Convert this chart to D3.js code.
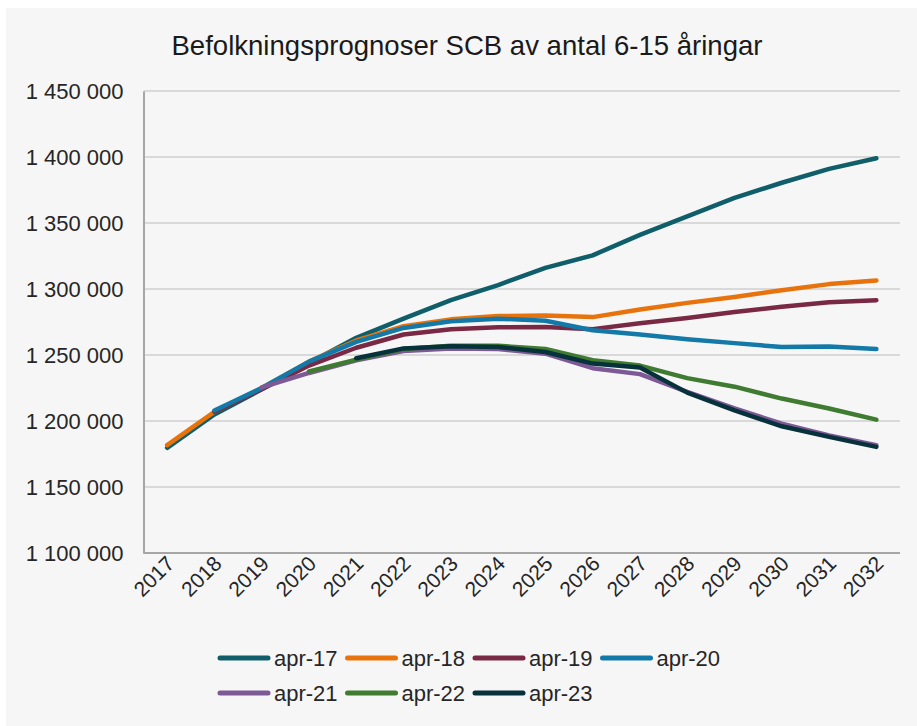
<!DOCTYPE html>
<html>
<head>
<meta charset="utf-8">
<script src="https://cdn.jsdelivr.net/npm/d3@7"></script>
<style>
  body { margin: 0; background: #ffffff; }
  svg { font-family: "Liberation Sans", Arial, sans-serif; }
  .grid line { stroke: #d9d9d9; stroke-width: 2; }
  .axis path, .axis line { stroke: #a6a6a6; stroke-width: 2; }
  .tick text { fill: #262626; }
  .serie { fill: none; stroke-width: 4.5; stroke-linejoin: round; stroke-linecap: round; }
</style>
</head>
<body>
<svg width="917" height="726"></svg>
<script>
const YEARS = [2017, 2018, 2019, 2020, 2021, 2022, 2023, 2024, 2025, 2026, 2027, 2028, 2029, 2030, 2031, 2032];

// one prognos per year, null = no value that year
const APR_17 = [1179700, 1205000, 1224000, 1244000, 1263000, 1277500, 1291500, 1303000, 1316000, 1325500, 1341000, 1355000, 1369000, 1380500, 1391000, 1399000];
const APR_18 = [1181700, 1207000, 1225000, 1245000, 1261000, 1271800, 1277000, 1279500, 1280000, 1278700, 1284500, 1289500, 1294000, 1299000, 1303700, 1306500];
const APR_19 = [null, 1207000, 1224000, 1242000, 1255500, 1265500, 1269500, 1271000, 1271200, 1269600, 1274000, 1278000, 1282500, 1286500, 1290000, 1291500];
const APR_20 = [null, 1208000, 1225000, 1245000, 1260000, 1270500, 1275500, 1277500, 1276000, 1268700, 1265500, 1262000, 1259000, 1256000, 1256500, 1254500];
const APR_21 = [null, null, 1225500, 1236400, 1246000, 1253000, 1255000, 1254500, 1251000, 1240000, 1235500, 1222000, 1209500, 1198000, 1189000, 1181700];
const APR_22 = [null, null, null, 1237500, 1246500, 1254500, 1257000, 1257000, 1254500, 1246000, 1242000, 1232500, 1226000, 1217000, 1209500, 1201000];
const APR_23 = [null, null, null, null, 1247500, 1255000, 1256700, 1256000, 1252300, 1243500, 1240500, 1221500, 1208000, 1196000, 1188000, 1180400];

const SERIES_NAMES = ['apr-17', 'apr-18', 'apr-19', 'apr-20', 'apr-21', 'apr-22', 'apr-23'];
const SERIES_VALUES = [APR_17, APR_18, APR_19, APR_20, APR_21, APR_22, APR_23];
const COLORS = ['#0f5e69', '#e8730c', '#7a2944', '#1279a9', '#7d5a96', '#3f7b30', '#07313b'];

const Y_TICKS = [1100000, 1150000, 1200000, 1250000, 1300000, 1350000, 1400000, 1450000];

const PARAMS = {
    left: 143.5,
    right: 900,
    top: 91,
    bottom: 553,
};

const svg = d3.select('svg');

// light grey chart area
svg.append('rect')
    .attr('x', 6).attr('y', 8)
    .attr('width', 911).attr('height', 718)
    .attr('fill', '#f6f6f6');

const x = d3.scalePoint()
    .domain(YEARS)
    .range([PARAMS.left, PARAMS.right])
    .padding(0.5);

const y = d3.scaleLinear()
    .domain([1100000, 1450000])
    .range([PARAMS.bottom, PARAMS.top]);

const swe = d3.formatLocale({ decimal: ',', thousands: ' ', grouping: [3], currency: ['', ' kr'] });
const fmt = swe.format(',d');

// gridlines
svg.append('g')
    .classed('grid', true)
    .selectAll('line')
    .data(Y_TICKS.slice(1))
    .enter()
    .append('line')
    .attr('x1', PARAMS.left)
    .attr('x2', PARAMS.right)
    .attr('y1', d => y(d))
    .attr('y2', d => y(d));

// y axis
const yAxis = svg.append('g')
    .classed('axis', true)
    .attr('transform', `translate(${PARAMS.left},0)`)
    .call(d3.axisLeft(y).tickValues(Y_TICKS).tickFormat(fmt).tickSize(0).tickPadding(20));
yAxis.select('.domain').attr('stroke', '#a6a6a6');
yAxis.selectAll('text').attr('font-size', 22).attr('font-family', 'Liberation Sans, Arial, sans-serif');

// x axis
const xAxis = svg.append('g')
    .classed('axis', true)
    .attr('transform', `translate(0,${PARAMS.bottom})`)
    .call(d3.axisBottom(x).tickSize(0).tickPadding(0));
xAxis.select('.domain').attr('d', `M${PARAMS.left},0H${PARAMS.right}`);
xAxis.selectAll('text')
    .attr('font-size', 21)
    .attr('font-family', 'Liberation Sans, Arial, sans-serif')
    .attr('text-anchor', 'end')
    .attr('dy', null)
    .attr('y', 0)
    .attr('transform', 'translate(8,12) rotate(-45)');

// lines
const line = d3.line()
    .defined(d => d.v !== null)
    .x(d => x(d.year))
    .y(d => y(d.v));

svg.append('g')
    .selectAll('.serie')
    .data(SERIES_VALUES)
    .enter()
    .append('path')
    .classed('serie', true)
    .attr('stroke', (d, i) => COLORS[i])
    .attr('d', vals => line(vals.map((v, j) => ({ year: YEARS[j], v: v }))));

// title
svg.append('text')
    .attr('x', 467)
    .attr('y', 55)
    .attr('text-anchor', 'middle')
    .attr('font-size', 28)
    .attr('fill', '#1a1a1a')
    .attr('textLength', 591)
    .attr('lengthAdjust', 'spacingAndGlyphs')
    .text('Befolkningsprognoser SCB av antal 6-15 åringar');

// legend, 4 per row
const legend = svg.append('g')
    .selectAll('.legenditem')
    .data(SERIES_NAMES)
    .enter()
    .append('g')
    .classed('legenditem', true)
    .attr('transform', (d, i) => `translate(${218 + (i % 4) * 127.5},${658 + Math.floor(i / 4) * 35})`);

legend.append('line')
    .attr('x1', 2).attr('x2', 50)
    .attr('stroke', (d, i) => COLORS[i])
    .attr('stroke-width', 5)
    .attr('stroke-linecap', 'round');

legend.append('text')
    .attr('x', 56)
    .attr('y', 8)
    .attr('font-size', 22)
    .attr('fill', '#262626')
    .text(d => d);
</script>
</body>
</html>
